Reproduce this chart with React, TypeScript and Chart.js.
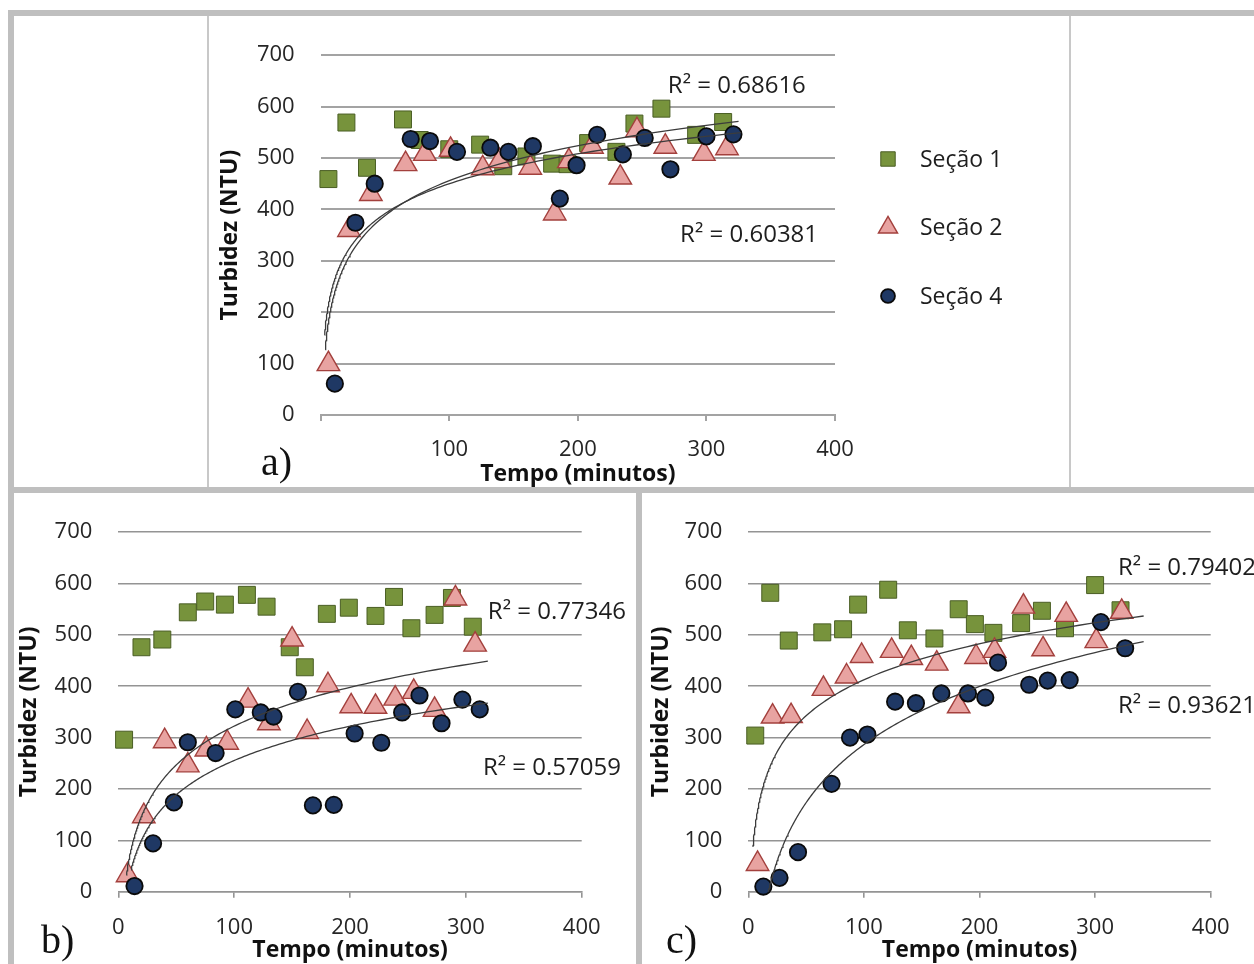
import React, { useEffect, useRef } from "react";
import { Chart, registerables, PointElement } from "chart.js";

Chart.register(...registerables);

// ---------------- data ----------------
const seriesNames = ["Seção 1", "Seção 2", "Seção 4"];
const xTickValues = [0, 100, 200, 300, 400];
const xTickLabelsA = ["", "100", "200", "300", "400"];
const xTickLabelsBC = ["0", "100", "200", "300", "400"];
const yTickValues = [0, 100, 200, 300, 400, 500, 600, 700];
const yTickLabels = ["0", "100", "200", "300", "400", "500", "600", "700"];
const xAxisTitle = "Tempo (minutos)";
const yAxisTitle = "Turbidez (NTU)";
const panelLetters = ["a)", "b)", "c)"];

// Panel a
const tempoA1 = [6, 20, 36, 64, 77, 100, 124, 142, 160, 180, 192, 208, 230, 244, 265, 292, 313];
const turbA1 = [459, 569, 481, 575, 535, 517, 526, 484, 503, 489, 488, 529, 512, 567, 596, 545, 570];
const tempoA2 = [6, 22, 39, 66, 81, 101, 126, 139, 163, 182, 193, 211, 233, 246, 268, 298, 316];
const turbA2 = [99, 360, 430, 488, 508, 516, 480, 494, 481, 392, 494, 522, 462, 554, 522, 508, 519];
const tempoA4 = [11, 27, 42, 70, 85, 106, 132, 146, 165, 186, 199, 215, 235, 252, 272, 300, 321];
const turbA4 = [61, 374, 450, 537, 533, 512, 520, 512, 523, 421, 486, 545, 507, 539, 478, 542, 546];
const r2TextsA = ["R² = 0.68616", "R² = 0.60381"];
// trendline x-extent (Seção 2, Seção 4)
const trendRangeA = [[3, 327], [3.5, 325]];

// Panel b
const tempoB1 = [5, 20, 38, 60, 75, 92, 111, 128, 148, 161, 180, 199, 222, 238, 253, 273, 288, 306];
const turbB1 = [296, 476, 491, 544, 565, 559, 578, 555, 476, 437, 541, 553, 537, 574, 513, 539, 572, 516];
const tempoB2 = [8, 22, 40, 60, 76, 94, 112, 130, 150, 163, 181, 201, 222, 239, 255, 273, 291, 308];
const turbB2 = [32, 147, 293, 246, 277, 290, 372, 328, 491, 311, 402, 361, 360, 376, 389, 354, 571, 481];
const tempoB4 = [14, 30, 48, 60, 84, 101, 123, 134, 155, 168, 186, 204, 227, 245, 260, 279, 297, 312];
const turbB4 = [11, 94, 174, 291, 270, 355, 349, 341, 389, 168, 169, 308, 290, 349, 382, 328, 374, 355];
const r2TextsB = ["R² = 0.77346", "R² = 0.57059"];
const trendRangeB = [[7, 319], [11, 319]];

// Panel c
const tempoC1 = [6, 19, 35, 64, 82, 95, 121, 138, 161, 182, 196, 212, 236, 254, 274, 300, 322];
const turbC1 = [304, 582, 489, 505, 511, 559, 588, 509, 493, 550, 521, 504, 523, 547, 513, 597, 548];
const tempoC2 = [8, 21, 37, 65, 85, 98, 124, 141, 163, 182, 197, 213, 238, 255, 275, 301, 323];
const turbC2 = [54, 341, 342, 395, 419, 459, 469, 455, 444, 361, 457, 469, 555, 472, 539, 488, 545];
const tempoC4 = [13, 27, 43, 72, 88, 103, 127, 145, 167, 190, 205, 216, 243, 259, 278, 305, 326];
const turbC4 = [10, 27, 77, 210, 300, 306, 370, 367, 386, 386, 378, 446, 403, 411, 412, 525, 474];
const r2TextsC = ["R² = 0.79402", "R² = 0.93621"];
const trendRangeC = [[4, 342], [12, 342]];

// ---------------- styles / layout ----------------
const FONT = "'Open Sans', 'DejaVu Sans', sans-serif";
const markerStyles = [
  { pointStyle: "rect", radius: 12, bg: "#77933c", border: "#4a5e24", bw: 1 },
  { pointStyle: "triangle", radius: 13, bg: "#e8a3a1", border: "#a3403d", bw: 1.4 },
  { pointStyle: "circle", radius: 8.2, bg: "#1f3864", border: "#0a0a0a", bw: 1.8 },
];

type Series = { x: number[]; y: number[] };
type PanelCfg = {
  box: { x: number; y: number; w: number; h: number };
  area: { left: number; top: number; right: number; bottom: number };
  series: Series[];
  trendOf: number[];
  trendRange: number[][];
  r2: { text: string; x: number; y: number }[];
  xLabels: string[];
  yTitlePad: number;
  xTickPad: number;
  gridColor: string;
  gridWidth: number;
  legend: null | { x: number; y: number; dy: number; textX: number };
};

const panels: PanelCfg[] = [
  {
    box: { x: 214, y: 16, w: 856, h: 472 },
    area: { left: 106.7, top: 34, right: 621, bottom: 399 },
    series: [
      { x: tempoA1, y: turbA1 },
      { x: tempoA2, y: turbA2 },
      { x: tempoA4, y: turbA4 },
    ],
    trendOf: [1, 2],
    trendRange: trendRangeA,
    r2: [
      { text: r2TextsA[0], x: 270, y: 640 },
      { text: r2TextsA[1], x: 279.5, y: 350 },
    ],
    xLabels: xTickLabelsA,
    yTitlePad: 3,
    xTickPad: 16,
    gridColor: "#a3a3a3",
    gridWidth: 2,
    legend: { x: 674, y: 143, dy: 68.5, textX: 706 },
  },
  {
    box: { x: 14, y: 493, w: 622, h: 471 },
    area: { left: 104.3, top: 32.7, right: 567.7, bottom: 398.7 },
    series: [
      { x: tempoB1, y: turbB1 },
      { x: tempoB2, y: turbB2 },
      { x: tempoB4, y: turbB4 },
    ],
    trendOf: [1, 2],
    trendRange: trendRangeB,
    r2: [
      { text: r2TextsB[0], x: 319, y: 544 },
      { text: r2TextsB[1], x: 314.7, y: 240 },
    ],
    xLabels: xTickLabelsBC,
    yTitlePad: 2,
    xTickPad: 17,
    gridColor: "#949494",
    gridWidth: 1.6,
    legend: null,
  },
  {
    box: { x: 642, y: 493, w: 612, h: 471 },
    area: { left: 106.3, top: 32.7, right: 568.7, bottom: 398.7 },
    series: [
      { x: tempoC1, y: turbC1 },
      { x: tempoC2, y: turbC2 },
      { x: tempoC4, y: turbC4 },
    ],
    trendOf: [1, 2],
    trendRange: trendRangeC,
    r2: [
      { text: r2TextsC[0], x: 319.8, y: 630 },
      { text: r2TextsC[1], x: 319.8, y: 361 },
    ],
    xLabels: xTickLabelsBC,
    yTitlePad: 6,
    xTickPad: 17,
    gridColor: "#949494",
    gridWidth: 1.6,
    legend: null,
  },
];

const letterPos = [
  { x: 261, y: 442 },
  { x: 41, y: 920 },
  { x: 666, y: 920 },
];

// ---------------- helpers ----------------
function logFit(xs: number[], ys: number[]) {
  const n = xs.length;
  let sl = 0, sy = 0, sll = 0, sly = 0;
  for (let i = 0; i < n; i++) {
    const l = Math.log(xs[i]);
    sl += l; sy += ys[i]; sll += l * l; sly += l * ys[i];
  }
  const a = (n * sly - sl * sy) / (n * sll - sl * sl);
  const b = (sy - a * sl) / n;
  return { a, b };
}

// Logarithmic least-squares trendline (as in the spreadsheet), drawn over the given x-extent
function trendPoints(s: Series, range: number[]) {
  const { a, b } = logFit(s.x, s.y);
  const [x0, x1] = range;
  const pts: { x: number; y: number }[] = [];
  const N = 150;
  for (let i = 0; i <= N; i++) {
    const x = x0 * Math.pow(x1 / x0, i / N);
    pts.push({ x, y: a * Math.log(x) + b });
  }
  return pts;
}

function makeR2Plugin(items: PanelCfg["r2"]) {
  return {
    id: "r2Labels",
    afterDatasetsDraw(chart: any) {
      const { ctx } = chart;
      const xs = chart.scales.x;
      const ys = chart.scales.y;
      ctx.save();
      ctx.font = `24px ${FONT}`;
      ctx.fillStyle = "#1e1e1e";
      ctx.textAlign = "left";
      ctx.textBaseline = "middle";
      items.forEach((it) => ctx.fillText(it.text, xs.getPixelForValue(it.x), ys.getPixelForValue(it.y)));
      ctx.restore();
    },
  };
}

function makeLegendPlugin(pos: PanelCfg["legend"]) {
  return {
    id: "sideLegend",
    afterDraw(chart: any) {
      if (!pos) return;
      const { ctx } = chart;
      ctx.save();
      seriesNames.forEach((name, i) => {
        const st = markerStyles[i];
        const y = pos.y + i * pos.dy;
        const pe: any = new PointElement({} as any);
        pe.x = pos.x;
        pe.y = y;
        pe.options = {
          pointStyle: st.pointStyle,
          radius: st.radius * 0.85,
          rotation: 0,
          borderWidth: st.bw,
          backgroundColor: st.bg,
          borderColor: st.border,
        };
        pe.draw(ctx);
        ctx.font = `23px ${FONT}`;
        ctx.fillStyle = "#1e1e1e";
        ctx.textAlign = "left";
        ctx.textBaseline = "middle";
        ctx.fillText(name, pos.textX, y + 1);
      });
      ctx.restore();
    },
  };
}

function buildConfig(cfg: PanelCfg): any {
  const datasets: any[] = [];
  cfg.series.forEach((s, i) => {
    const st = markerStyles[i];
    datasets.push({
      label: seriesNames[i],
      data: s.x.map((x, k) => ({ x, y: s.y[k] })),
      pointStyle: st.pointStyle,
      pointRadius: st.radius,
      pointBackgroundColor: st.bg,
      pointBorderColor: st.border,
      pointBorderWidth: st.bw,
      backgroundColor: st.bg,
      borderColor: st.border,
      showLine: false,
      order: 3 - i,
      clip: false,
    });
  });
  cfg.trendOf.forEach((si, k) => {
    datasets.push({
      label: "Log. (" + seriesNames[si] + ")",
      data: trendPoints(cfg.series[si], cfg.trendRange[k]),
      showLine: true,
      pointRadius: 0,
      borderColor: "#3c3c3c",
      borderWidth: 1.3,
      fill: false,
      tension: 0,
      order: 0,
      clip: 0,
    });
  });

  const xAxisH = cfg.box.h - cfg.area.bottom;
  return {
    type: "scatter",
    data: { datasets },
    options: {
      responsive: false,
      animation: false,
      events: [],
      devicePixelRatio: 1,
      layout: {
        padding: { left: 0, top: cfg.area.top, right: cfg.box.w - cfg.area.right, bottom: 0 },
      },
      plugins: { legend: { display: false }, tooltip: { enabled: false } },
      scales: {
        x: {
          type: "linear",
          min: 0,
          max: 400,
          afterBuildTicks: (s: any) => {
            s.ticks = xTickValues.map((v) => ({ value: v }));
          },
          afterFit: (s: any) => {
            s.height = xAxisH;
          },
          ticks: {
            callback: (v: number) => cfg.xLabels[xTickValues.indexOf(v)],
            font: { size: 22, family: FONT },
            color: "#262626",
            padding: cfg.xTickPad,
            maxRotation: 0,
            autoSkip: false,
          },
          grid: { drawOnChartArea: false, drawTicks: true, tickLength: 6, color: cfg.gridColor, lineWidth: cfg.gridWidth },
          border: { display: true, color: cfg.gridColor, width: cfg.gridWidth },
          title: {
            display: true,
            text: xAxisTitle,
            font: { size: 23, weight: "bold", family: FONT },
            color: "#111",
            padding: { top: 0, bottom: 0 },
          },
        },
        y: {
          type: "linear",
          min: 0,
          max: 700,
          afterBuildTicks: (s: any) => {
            s.ticks = yTickValues.map((v) => ({ value: v }));
          },
          afterFit: (s: any) => {
            s.width = cfg.area.left;
          },
          ticks: {
            callback: (v: number) => yTickLabels[yTickValues.indexOf(v)],
            font: { size: 22, family: FONT },
            color: "#262626",
            padding: 26,
            autoSkip: false,
          },
          grid: { drawTicks: false, color: cfg.gridColor, lineWidth: cfg.gridWidth },
          border: { display: false },
          title: {
            display: true,
            text: yAxisTitle,
            font: { size: 23, weight: "bold", family: FONT },
            color: "#111",
            padding: { top: cfg.yTitlePad, bottom: 0 },
          },
        },
      },
    },
    plugins: [makeR2Plugin(cfg.r2), makeLegendPlugin(cfg.legend)],
  };
}

function Panel({ cfg }: { cfg: PanelCfg }) {
  const ref = useRef<HTMLCanvasElement>(null);
  useEffect(() => {
    const chart = new Chart(ref.current as HTMLCanvasElement, buildConfig(cfg));
    return () => chart.destroy();
  }, [cfg]);
  return (
    <canvas
      ref={ref}
      width={cfg.box.w}
      height={cfg.box.h}
      style={{ position: "absolute", left: cfg.box.x, top: cfg.box.y, width: cfg.box.w, height: cfg.box.h }}
    />
  );
}

const band = "#bfbfbf";
const thin = "#c8c8c8";

export default function App() {
  useEffect(() => {
    document.body.style.margin = "0";
    document.body.style.overflow = "hidden";
  }, []);
  const rect = (x: number, y: number, w: number, h: number, c: string) => (
    <div style={{ position: "absolute", left: x, top: y, width: w, height: h, background: c }} />
  );
  return (
    <div style={{ position: "absolute", left: 0, top: 0, width: 1254, height: 964, background: "#fff", overflow: "hidden" }}>
      {panels.map((p, i) => (
        <Panel key={i} cfg={p} />
      ))}
      {rect(8, 10, 1246, 6, band)}
      {rect(8, 10, 6, 954, band)}
      {rect(8, 487, 1246, 6, band)}
      {rect(636, 487, 6, 477, band)}
      {rect(207, 16, 2, 471, thin)}
      {rect(1069, 16, 2, 471, thin)}
      {panelLetters.map((t, i) => (
        <div
          key={t}
          style={{
            position: "absolute",
            left: letterPos[i].x,
            top: letterPos[i].y,
            fontFamily: "'Liberation Serif', 'DejaVu Serif', serif",
            fontSize: 40,
            lineHeight: "40px",
            color: "#111",
            whiteSpace: "nowrap",
          }}
        >
          {t}
        </div>
      ))}
    </div>
  );
}
